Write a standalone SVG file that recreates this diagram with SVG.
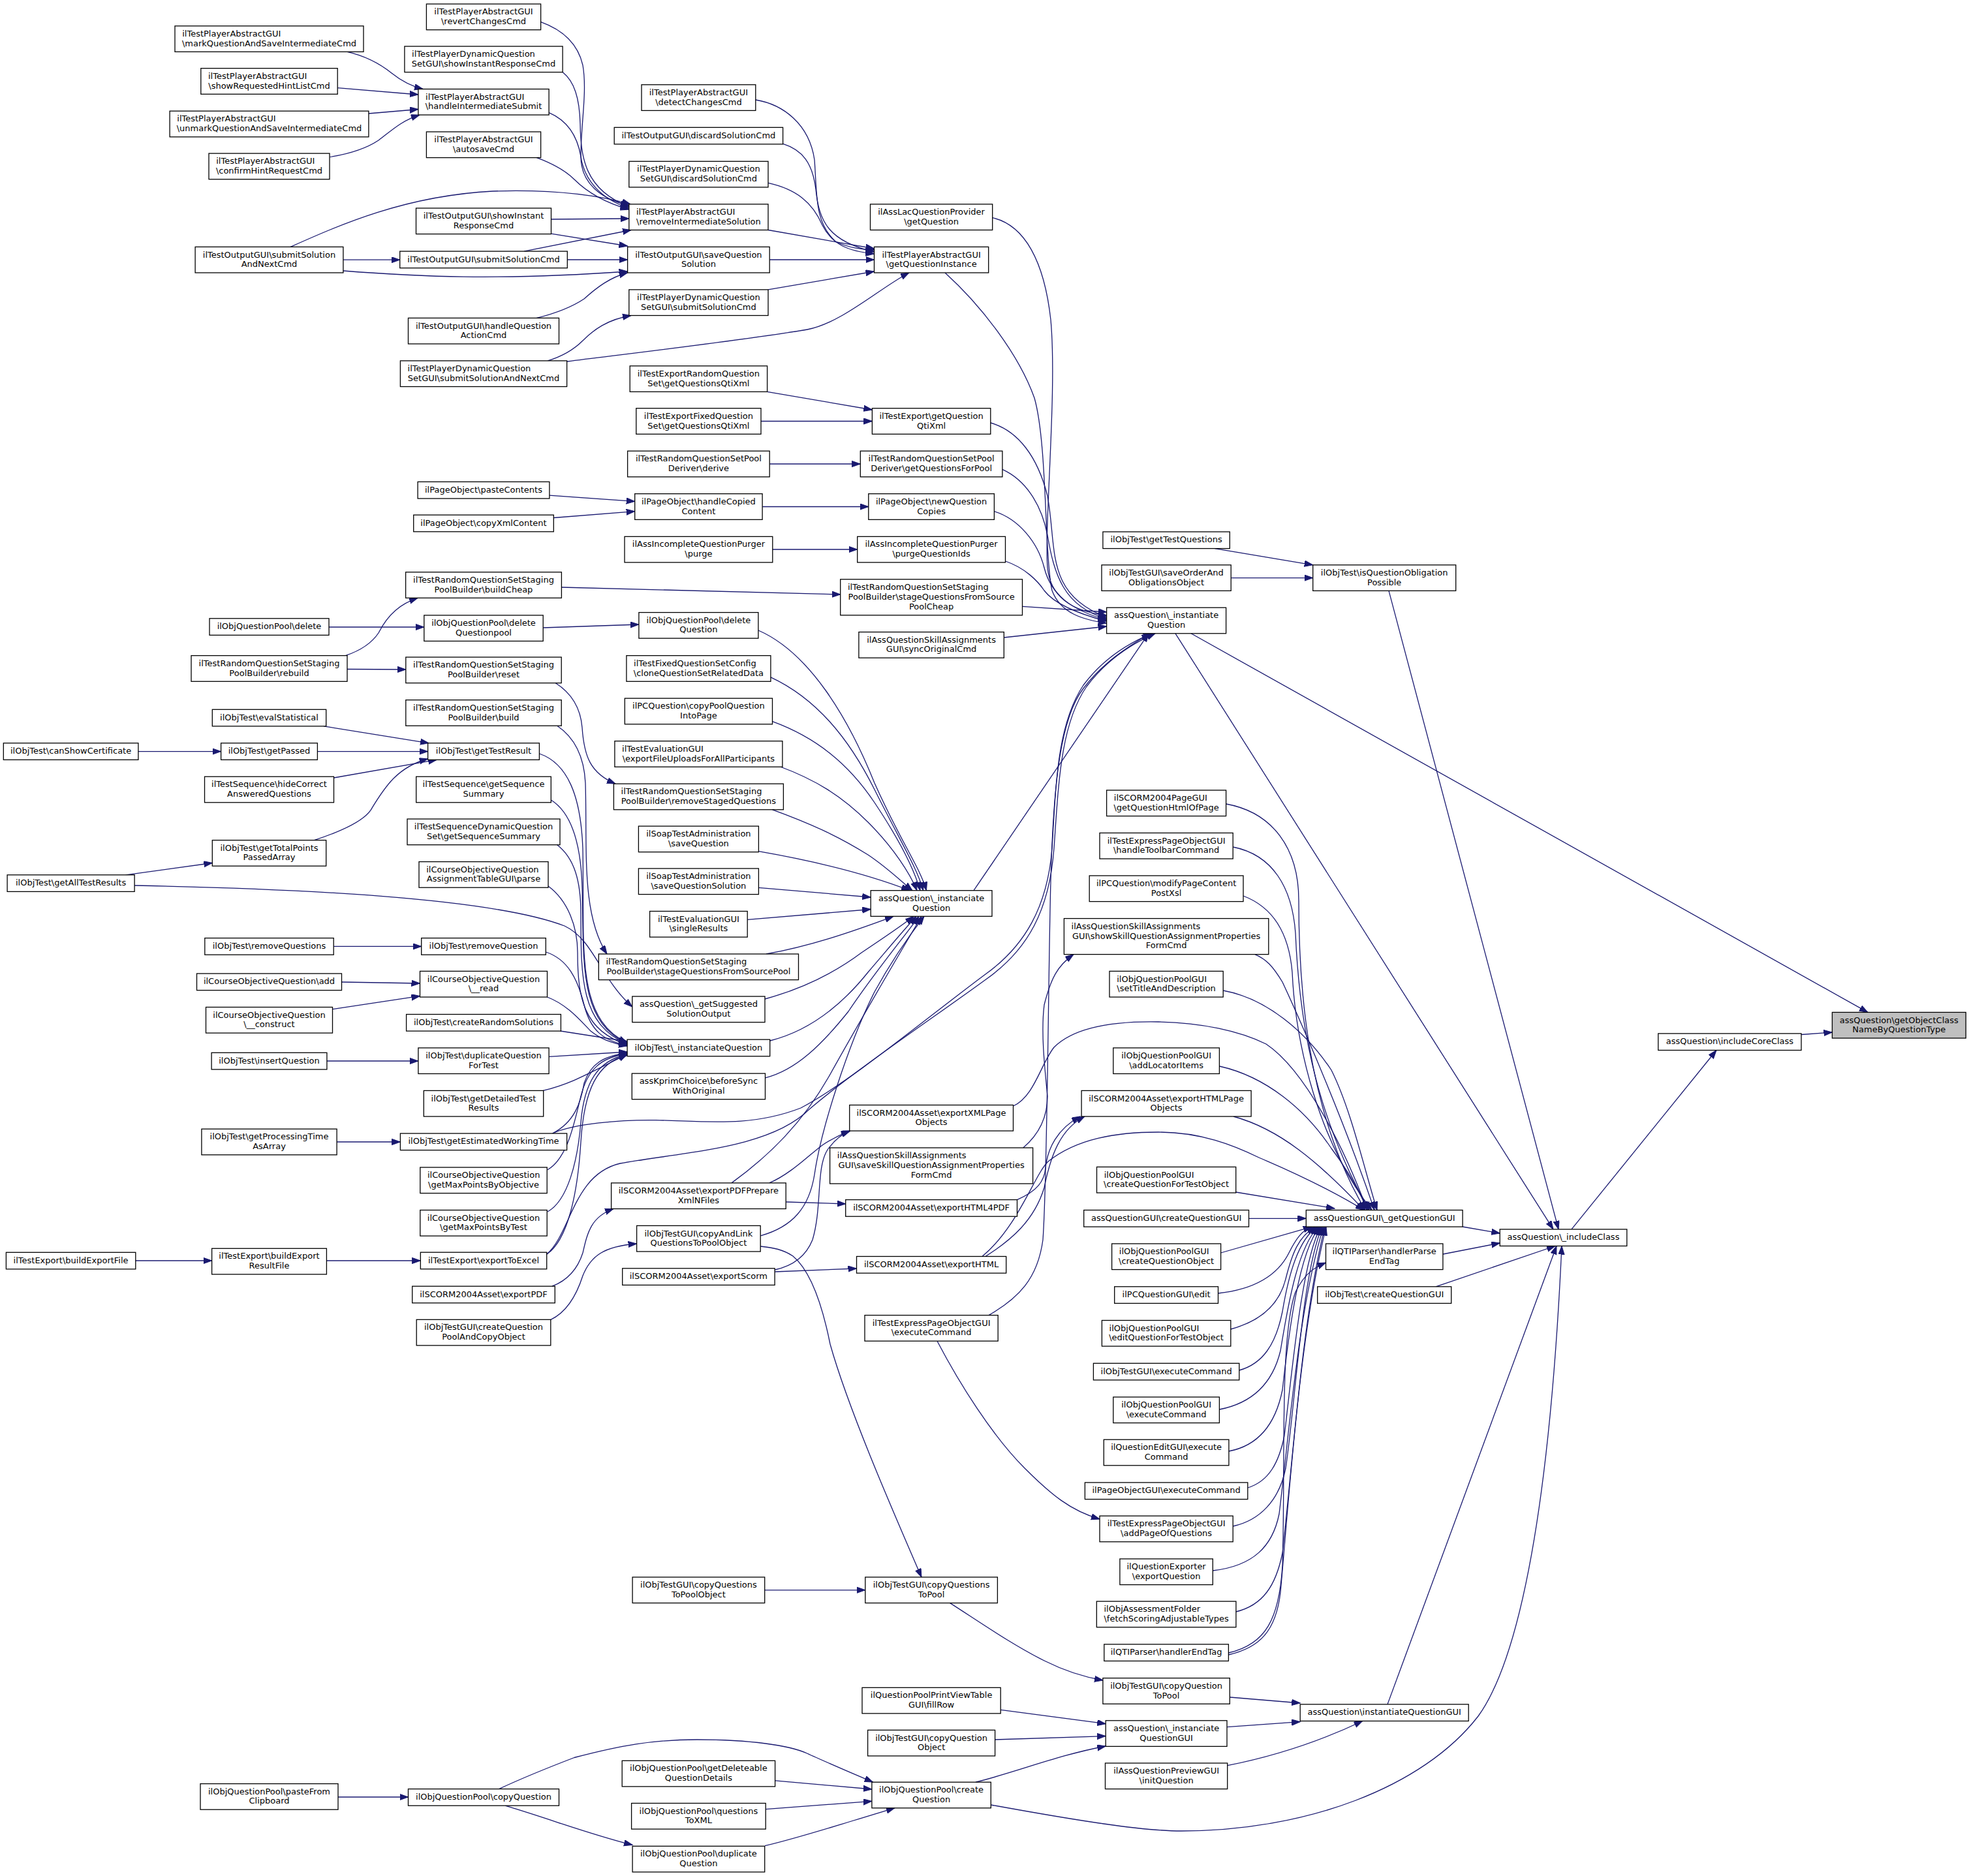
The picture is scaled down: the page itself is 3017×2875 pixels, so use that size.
<svg xmlns="http://www.w3.org/2000/svg" width="3017" height="2875" viewBox="0 0 3017 2875">
<defs>
<style>
.node rect{fill:#fff;stroke:#000;stroke-width:1.3}
.hl rect{fill:#bfbfbf}
text{font-family:"DejaVu Sans",sans-serif;font-size:13px;text-anchor:middle;fill:#000}
text.l{text-anchor:start}
.e path{fill:none;stroke:#191970;stroke-width:1.3;marker-end:url(#a)}
</style>
<marker id="a" markerUnits="userSpaceOnUse" markerWidth="15" markerHeight="11" refX="13" refY="4.6" orient="auto"><path d="M0,0L13,4.6L0,9.2z" fill="#191970" stroke="#191970" stroke-width="1"/></marker>
</defs>
<rect x="0" y="0" width="3017" height="2875" fill="#fff"/>
<g id="edges" class="e">
<path d="M532,79.4 C565,87 585,100 600,112 C615,124 630,132 648,136.5"/>
<path d="M517.2,134.7 L640.9,145"/>
<path d="M564.9,174 L640.9,167.5"/>
<path d="M505.6,240.6 C540,235 565,225 580,215 C600,200 615,185 643,176.1"/>
<path d="M445,378.4 C520,345 620,300 755,293 C850,290 920,300 966,312.9"/>
<path d="M525.9,398.2 L612.7,398.2"/>
<path d="M525.9,415 C640,424 760,430 961.6,416"/>
<path d="M504,961 L649.8,961"/>
<path d="M529.6,1004.7 C555,996 570,985 580,970 C595,940 615,925 640,916.4"/>
<path d="M532,1025.5 L621.8,1026"/>
<path d="M496,1112.9 L657,1138.8"/>
<path d="M211.9,1151.6 L338.6,1151.6"/>
<path d="M486.4,1151.6 L655.6,1151.6"/>
<path d="M511.5,1192 L669,1164.4"/>
<path d="M481.5,1287.6 C520,1275 555,1260 568,1241.6 C590,1205 610,1175 655.6,1163"/>
<path d="M192.6,1340.8 L325.3,1322.5"/>
<path d="M206.1,1357 C450,1362 750,1375 865,1419 C910,1440 920,1500 968.8,1543"/>
<path d="M511.2,1450.4 L645.7,1450.4"/>
<path d="M523.5,1505 L643.5,1507"/>
<path d="M509.5,1546.6 L643.5,1526.4"/>
<path d="M500.9,1626 L640.9,1626"/>
<path d="M516,1750 L613.4,1750"/>
<path d="M208,1932 L324.6,1932"/>
<path d="M500.4,1932 L644.3,1932"/>
<path d="M518,2754 L625.5,2754"/>
<path d="M828.6,33.7 C860,45 885,65 893,100 C900,140 890,190 890,240 C890,280 920,305 963.8,315"/>
<path d="M862.1,110.6 C880,125 888,150 889,190 C890,240 895,290 963.8,317"/>
<path d="M841.1,172.6 C870,185 885,210 890,240 C895,275 920,305 963.8,319"/>
<path d="M822.4,241.6 C845,250 865,260 880,275 C900,295 925,310 963.8,321"/>
<path d="M844.5,336 L963.8,335"/>
<path d="M844.5,358.2 L961.6,377"/>
<path d="M803,385.1 L967,352.5"/>
<path d="M869.3,398 L961.6,398"/>
<path d="M822.4,487.4 C860,478 880,468 895,458 C915,440 935,425 961.6,418"/>
<path d="M839.3,552.9 C865,545 880,535 893,522 C910,505 930,490 967,483.5"/>
<path d="M868.6,554 C980,540 1150,520 1237,505 C1290,495 1350,440 1393,418"/>
<path d="M1157.8,153 C1200,160 1240,190 1248,245 C1252,300 1248,340 1280,370 C1300,380 1320,382 1339.5,383"/>
<path d="M1199.7,220.4 C1230,230 1245,250 1250,290 C1255,340 1270,370 1339.5,386"/>
<path d="M1177.1,280.4 C1220,290 1245,310 1260,345 C1275,375 1300,385 1339.5,389"/>
<path d="M1177.1,352.5 L1339.5,381"/>
<path d="M1179.2,398 L1339.5,398"/>
<path d="M1177.1,443.9 L1339.5,416"/>
<path d="M1175.4,600.4 L1336.4,628"/>
<path d="M1166,645.5 L1336.4,645.5"/>
<path d="M1179.2,711 L1318.3,711"/>
<path d="M841.9,759.2 L972.7,768.4"/>
<path d="M848.4,793.5 L972.7,783.7"/>
<path d="M1168.2,776.5 L1330.8,776.5"/>
<path d="M1183.8,842 L1313.7,842"/>
<path d="M860.4,900 L1287.7,911"/>
<path d="M832.3,962 L978.9,957"/>
<path d="M851.3,1046.7 C880,1065 890,1090 892,1115 C895,1160 905,1185 943,1201.2"/>
<path d="M853.7,1112.3 C880,1130 895,1160 897,1200 C900,1300 890,1400 930,1462"/>
<path d="M826.5,1155 C870,1170 890,1220 893,1300 C896,1450 880,1560 961.1,1598"/>
<path d="M844.3,1226 C875,1245 890,1290 892,1360 C895,1470 885,1565 961.1,1599"/>
<path d="M853.7,1294.7 C880,1315 890,1350 890,1400 C890,1500 890,1570 961.1,1600"/>
<path d="M840,1358 C870,1380 885,1420 885,1460 C885,1530 895,1580 961.1,1601"/>
<path d="M836.4,1459 C870,1470 885,1500 895,1540 C905,1580 925,1595 961.1,1602"/>
<path d="M838.5,1528 C870,1540 890,1565 905,1580 C920,1592 935,1598 961.1,1603"/>
<path d="M858.5,1580 L961.1,1596"/>
<path d="M841.2,1619.4 L961.1,1612"/>
<path d="M832,1671.4 C880,1660 910,1640 961.1,1616"/>
<path d="M846.5,1737 C880,1720 890,1690 895,1660 C905,1630 925,1618 961.1,1614"/>
<path d="M839,1792.7 C870,1775 880,1720 890,1680 C900,1640 920,1620 961.1,1615"/>
<path d="M839,1857 C870,1840 885,1780 890,1720 C895,1660 915,1625 961.1,1616"/>
<path d="M838,1922 C870,1900 885,1830 890,1750 C895,1670 915,1628 961.1,1617"/>
<path d="M1161.9,966 C1240,1000 1300,1100 1340,1200 C1380,1290 1410,1330 1419.5,1364.7"/>
<path d="M1180.9,1037.8 C1250,1070 1300,1130 1340,1210 C1380,1290 1405,1330 1414.7,1364.7"/>
<path d="M1183.5,1105.7 C1250,1130 1300,1170 1340,1230 C1380,1290 1400,1330 1410,1364.7"/>
<path d="M1193,1174 C1250,1195 1290,1220 1330,1260 C1370,1300 1395,1340 1405,1364.7"/>
<path d="M1183.5,1240.8 C1250,1265 1290,1285 1330,1310 C1360,1330 1380,1350 1398,1364.7"/>
<path d="M1162.4,1304.7 C1250,1320 1330,1340 1394,1364.7"/>
<path d="M1162.4,1360.4 L1334.2,1375"/>
<path d="M1145.3,1409.4 L1334.2,1393.5"/>
<path d="M1174,1462 C1240,1450 1300,1430 1369,1404.3"/>
<path d="M1172,1531 C1230,1515 1280,1490 1320,1460 C1350,1440 1380,1420 1400,1404.3"/>
<path d="M1179.7,1595 C1240,1580 1290,1540 1330,1490 C1360,1455 1385,1425 1404,1404.3"/>
<path d="M1172.5,1651.8 C1220,1640 1260,1600 1300,1550 C1340,1490 1390,1430 1408,1404.3"/>
<path d="M1121,1812.9 C1180,1770 1230,1720 1270,1650 C1320,1560 1385,1450 1412,1404.3"/>
<path d="M1165.3,1893.8 C1215,1880 1240,1850 1248,1800 C1258,1730 1300,1600 1340,1520 C1370,1465 1400,1425 1416,1404.3"/>
<path d="M846.5,1737 C880,1722 950,1716 1005,1716.7 C1080,1718 1150,1728 1227,1698 C1300,1660 1420,1560 1510,1493 C1570,1450 1605,1390 1612,1300 C1618,1200 1620,1110 1660,1050 C1690,1010 1730,985 1765,970.8"/>
<path d="M837.8,1922 C875,1890 878,1800 950,1783 C1050,1765 1180,1760 1240,1700 C1310,1640 1430,1560 1512,1500 C1575,1455 1608,1395 1615,1300 C1622,1200 1625,1110 1665,1052 C1695,1012 1735,986 1770,970.8"/>
<path d="M1515,2015.6 C1560,1990 1590,1960 1598,1900 C1605,1800 1606,1500 1610,1350 C1614,1200 1625,1100 1660,1055 C1690,1015 1730,990 1762,970.8"/>
<path d="M1448,418 C1500,465 1560,540 1585,610 C1605,680 1600,850 1612,905 C1625,940 1660,950 1695.6,955"/>
<path d="M1520.8,333.7 C1570,345 1600,400 1610,490 C1620,600 1600,800 1605,870 C1610,920 1650,938 1695.6,943"/>
<path d="M1517.9,648 C1560,660 1590,700 1605,760 C1620,840 1600,910 1695.6,946"/>
<path d="M1535.9,719.4 C1570,735 1595,770 1605,820 C1615,880 1630,930 1695.6,948"/>
<path d="M1523.4,783.7 C1560,795 1590,830 1600,870 C1610,910 1640,935 1695.6,950"/>
<path d="M1540.5,860 C1570,870 1590,890 1600,905 C1615,925 1650,940 1695.6,952"/>
<path d="M1566.3,929.4 L1695.6,938"/>
<path d="M1538.3,977 L1695.6,960"/>
<path d="M1492,1364.7 L1760,970.8"/>
<path d="M846,1971.2 C870,1962 885,1945 893,1920 C900,1890 905,1865 940,1852.5"/>
<path d="M844,2022.3 C870,2010 885,1980 893,1955 C905,1925 925,1910 975.6,1906"/>
<path d="M1178.7,1812.9 C1210,1800 1240,1770 1260,1755 C1275,1745 1290,1738 1301.7,1733.1"/>
<path d="M1187.2,1946 C1215,1940 1235,1925 1245,1900 C1260,1850 1250,1790 1268,1762 C1280,1745 1292,1737 1303,1733.1"/>
<path d="M1204.3,1842 L1295.7,1845"/>
<path d="M1187.2,1949 L1312.5,1944"/>
<path d="M1558.6,1838.6 C1590,1825 1600,1810 1602,1790 C1605,1760 1620,1730 1655,1711"/>
<path d="M1510,1925.5 C1550,1900 1585,1870 1600,1820 C1610,1770 1625,1730 1662,1711"/>
<path d="M1505,1925.5 C1560,1880 1585,1800 1606,1780 C1650,1745 1710,1735 1775,1735 C1840,1735 1890,1755 1929,1774 C1990,1800 2050,1830 2090,1854.5"/>
<path d="M1567.8,1759 C1590,1740 1605,1715 1605,1680 C1600,1630 1595,1580 1600,1540 C1610,1500 1620,1480 1645,1462.6"/>
<path d="M1552.6,1695 C1585,1680 1595,1630 1615,1605 C1650,1570 1720,1565 1775,1566 C1840,1567 1900,1580 1940,1600 C2000,1640 2060,1760 2095,1854.5"/>
<path d="M1878.6,1232 C1950,1245 1990,1300 1990,1380 C1990,1500 2000,1700 2092,1854.5"/>
<path d="M1889.2,1298 C1950,1310 1980,1360 1985,1430 C1990,1550 2010,1700 2098,1854.5"/>
<path d="M1905,1373 C1950,1390 1975,1430 1980,1490 C1985,1600 2020,1750 2102,1854.5"/>
<path d="M1923,1462.6 C1940,1470 1950,1480 1965,1505 C2000,1580 2060,1720 2106,1854.5"/>
<path d="M1874.3,1518 C1940,1530 2000,1580 2040,1640 C2070,1700 2090,1790 2110,1854.5"/>
<path d="M1868.5,1634 C1940,1650 2000,1700 2040,1760 C2070,1800 2085,1830 2095,1854.5"/>
<path d="M1890,1711 C1960,1730 2020,1780 2090,1854.5"/>
<path d="M1893.8,1827 L2045,1852"/>
<path d="M1913.5,1867.3 L2001.3,1867.3"/>
<path d="M1870.6,1920 L2010,1880.1"/>
<path d="M1866.6,1982 C1930,1975 1960,1950 1975,1920 C1985,1900 1995,1885 2010,1880.1"/>
<path d="M1885.8,2037 C1930,2025 1960,2000 1970,1960 C1980,1920 1990,1895 2015,1880.1"/>
<path d="M1898.8,2100 C1935,2090 1955,2060 1965,2010 C1975,1950 1990,1900 2018,1880.1"/>
<path d="M1868.5,2160 C1920,2150 1950,2120 1962,2070 C1975,1990 1990,1910 2020,1880.1"/>
<path d="M1883,2224 C1930,2215 1955,2180 1965,2130 C1975,2040 1990,1920 2022,1880.1"/>
<path d="M1911.8,2280 C1945,2270 1960,2240 1968,2200 C1980,2100 1995,1930 2024,1880.1"/>
<path d="M1889.2,2339 C1930,2330 1960,2300 1970,2250 C1985,2150 1995,1950 2026,1880.1"/>
<path d="M1858.4,2407 C1920,2400 1950,2370 1960,2320 C1975,2200 1990,2000 2028,1880.1"/>
<path d="M1894,2470 C1935,2460 1955,2430 1965,2380 C1980,2250 1995,2020 2030,1880.1"/>
<path d="M1882.5,2536 C1930,2525 1955,2500 1962,2440 C1975,2300 1990,2050 2032,1880.1"/>
<path d="M1882.5,2533 C1940,2520 1960,2480 1965,2400 C1970,2250 1960,2050 1985,1980 C2000,1950 2015,1942 2031.5,1935"/>
<path d="M1861.5,840.6 L2011.7,865.8"/>
<path d="M1886.3,885.6 L2011.7,885.6"/>
<path d="M2241.1,1880 L2298.2,1890"/>
<path d="M2211,1922 L2298.2,1905"/>
<path d="M2200,1971.8 L2383,1909.5"/>
<path d="M2126,2611.9 L2385,1909.5"/>
<path d="M1518.4,2766 C1650,2790 1750,2806 1810,2806 C2000,2806 2180,2740 2265,2630 C2330,2540 2375,2300 2393,1909.5"/>
<path d="M1801,970.8 L2380,1883.9"/>
<path d="M2128,905.4 L2388,1883.9"/>
<path d="M1825,970.8 L2862,1551.4"/>
<path d="M2408,1883.9 L2630,1609.5"/>
<path d="M2760,1585.5 L2807.4,1582"/>
<path d="M1171.8,2436.8 L1325.8,2436.8"/>
<path d="M1165.3,1910 C1185,1912 1200,1915 1215,1925 C1245,1950 1262,2010 1272,2060 C1300,2160 1370,2320 1412,2417"/>
<path d="M1436,2055.2 C1470,2120 1520,2200 1570,2250 C1610,2290 1640,2315 1685,2328"/>
<path d="M1455.6,2456.6 C1500,2485 1550,2520 1600,2545 C1630,2560 1660,2570 1690,2575"/>
<path d="M1884.4,2601 L1992.2,2610"/>
<path d="M1880.1,2646.6 L1992.2,2638.7"/>
<path d="M1880.8,2705.7 C1960,2690 2030,2665 2087.8,2637.5"/>
<path d="M1533.3,2620.4 L1694.2,2641.7"/>
<path d="M1524.6,2666 L1694.2,2660.6"/>
<path d="M1495,2731.2 C1560,2715 1620,2690 1694.2,2676"/>
<path d="M1187.7,2728.8 L1335.9,2742"/>
<path d="M1173.3,2772.6 L1335.9,2760.4"/>
<path d="M1172,2828.7 C1230,2815 1290,2795 1371,2770.8"/>
<path d="M764.6,2741.6 C800,2725 850,2705 880,2693.5 C950,2675 1000,2666 1068,2666 C1150,2666 1210,2675 1236.5,2687 C1260,2698 1300,2715 1337.6,2731.2"/>
<path d="M774,2767.2 C850,2790 900,2810 969.1,2827.5"/>
</g>
<g id="n_markQ" class="node"><rect x="268" y="39.8" width="289" height="39.6"/><text class="l" x="279.2" y="55.9">ilTestPlayerAbstractGUI</text><text x="412.5" y="70.6">\markQuestionAndSaveIntermediateCmd</text></g>
<g id="n_showHint" class="node"><rect x="307.8" y="104.7" width="209.4" height="39.6"/><text class="l" x="319" y="120.8">ilTestPlayerAbstractGUI</text><text x="412.5" y="135.5">\showRequestedHintListCmd</text></g>
<g id="n_unmark" class="node"><rect x="260.1" y="170.2" width="304.8" height="39.6"/><text class="l" x="271.3" y="186.3">ilTestPlayerAbstractGUI</text><text x="412.5" y="201">\unmarkQuestionAndSaveIntermediateCmd</text></g>
<g id="n_confirm" class="node"><rect x="320" y="235.1" width="185" height="39.6"/><text class="l" x="331.2" y="251.2">ilTestPlayerAbstractGUI</text><text x="412.5" y="265.9">\confirmHintRequestCmd</text></g>
<g id="n_subNext" class="node"><rect x="299.1" y="378.4" width="226.8" height="39.6"/><text x="412.5" y="394.5">ilTestOutputGUI\submitSolution</text><text x="412.5" y="409.2">AndNextCmd</text></g>
<g id="n_qpDelete" class="node"><rect x="321" y="947.8" width="183" height="25.6"/><text x="412.5" y="964.2">ilObjQuestionPool\delete</text></g>
<g id="n_rebuild" class="node"><rect x="293" y="1004.7" width="239" height="39.6"/><text x="412.5" y="1020.8">ilTestRandomQuestionSetStaging</text><text x="412.5" y="1035.5">PoolBuilder\rebuild</text></g>
<g id="n_evalStat" class="node"><rect x="325.3" y="1087.3" width="174.4" height="25.6"/><text x="412.5" y="1103.7">ilObjTest\evalStatistical</text></g>
<g id="n_getPassed" class="node"><rect x="338.6" y="1138.8" width="147.8" height="25.6"/><text x="412.5" y="1155.2">ilObjTest\getPassed</text></g>
<g id="n_hideCorrect" class="node"><rect x="313.5" y="1190.2" width="198" height="39.6"/><text x="412.5" y="1206.3">ilTestSequence\hideCorrect</text><text x="412.5" y="1221">AnsweredQuestions</text></g>
<g id="n_totalPoints" class="node"><rect x="325.3" y="1287.6" width="174.4" height="39.6"/><text x="412.5" y="1303.7">ilObjTest\getTotalPoints</text><text x="412.5" y="1318.4">PassedArray</text></g>
<g id="n_removeQs" class="node"><rect x="313.8" y="1437.6" width="197.4" height="25.6"/><text x="412.5" y="1454">ilObjTest\removeQuestions</text></g>
<g id="n_coqAdd" class="node"><rect x="301.5" y="1492" width="222" height="25.6"/><text x="412.5" y="1508.4">ilCourseObjectiveQuestion\add</text></g>
<g id="n_construct" class="node"><rect x="315.5" y="1543.5" width="194" height="39.6"/><text x="412.5" y="1559.6">ilCourseObjectiveQuestion</text><text x="412.5" y="1574.3">\__construct</text></g>
<g id="n_insertQ" class="node"><rect x="324.1" y="1613.3" width="176.8" height="25.6"/><text x="412.5" y="1629.7">ilObjTest\insertQuestion</text></g>
<g id="n_procTime" class="node"><rect x="308.9" y="1730.2" width="207.2" height="39.6"/><text x="412.5" y="1746.3">ilObjTest\getProcessingTime</text><text x="412.5" y="1761">AsArray</text></g>
<g id="n_buildExportResult" class="node"><rect x="324.6" y="1913.3" width="175.8" height="39.6"/><text x="412.5" y="1929.4">ilTestExport\buildExport</text><text x="412.5" y="1944.1">ResultFile</text></g>
<g id="n_pasteClip" class="node"><rect x="307" y="2733.6" width="211" height="39.6"/><text x="412.5" y="2749.7">ilObjQuestionPool\pasteFrom</text><text x="412.5" y="2764.4">Clipboard</text></g>
<g id="n_canShow" class="node"><rect x="5.3" y="1138.8" width="206.6" height="25.6"/><text x="108.6" y="1155.2">ilObjTest\canShowCertificate</text></g>
<g id="n_getAll" class="node"><rect x="11.1" y="1340.8" width="195" height="25.6"/><text x="108.6" y="1357.2">ilObjTest\getAllTestResults</text></g>
<g id="n_buildExportFile" class="node"><rect x="9.4" y="1919.3" width="198.4" height="25.6"/><text x="108.6" y="1935.7">ilTestExport\buildExportFile</text></g>
<g id="n_revert" class="node"><rect x="653.4" y="6.1" width="175.2" height="39.6"/><text x="741" y="22.2">ilTestPlayerAbstractGUI</text><text x="741" y="36.9">\revertChangesCmd</text></g>
<g id="n_dynShowInstant" class="node"><rect x="619.9" y="71" width="242.2" height="39.6"/><text class="l" x="631.1" y="87.1">ilTestPlayerDynamicQuestion</text><text x="741" y="101.8">SetGUI\showInstantResponseCmd</text></g>
<g id="n_his" class="node"><rect x="640.9" y="136.5" width="200.2" height="39.6"/><text class="l" x="652.1" y="152.6">ilTestPlayerAbstractGUI</text><text x="741" y="167.3">\handleIntermediateSubmit</text></g>
<g id="n_autosave" class="node"><rect x="653.4" y="202" width="175.2" height="39.6"/><text x="741" y="218.1">ilTestPlayerAbstractGUI</text><text x="741" y="232.8">\autosaveCmd</text></g>
<g id="n_toShowInstant" class="node"><rect x="637.5" y="319" width="207" height="39.6"/><text x="741" y="335.1">ilTestOutputGUI\showInstant</text><text x="741" y="349.8">ResponseCmd</text></g>
<g id="n_toSubmit" class="node"><rect x="612.7" y="385.1" width="256.6" height="25.6"/><text x="741" y="401.5">ilTestOutputGUI\submitSolutionCmd</text></g>
<g id="n_toHandleAction" class="node"><rect x="625.5" y="487.4" width="231" height="39.6"/><text x="741" y="503.5">ilTestOutputGUI\handleQuestion</text><text x="741" y="518.2">ActionCmd</text></g>
<g id="n_dynSubNext" class="node"><rect x="613.4" y="552.9" width="255.2" height="39.6"/><text class="l" x="624.6" y="569">ilTestPlayerDynamicQuestion</text><text x="741" y="583.7">SetGUI\submitSolutionAndNextCmd</text></g>
<g id="n_pasteContents" class="node"><rect x="640.1" y="738.4" width="201.8" height="25.6"/><text x="741" y="754.8">ilPageObject\pasteContents</text></g>
<g id="n_copyXml" class="node"><rect x="633.7" y="789.2" width="214.6" height="25.6"/><text x="741" y="805.6">ilPageObject\copyXmlContent</text></g>
<g id="n_buildCheap" class="node"><rect x="621.6" y="876.8" width="238.8" height="39.6"/><text x="741" y="892.9">ilTestRandomQuestionSetStaging</text><text x="741" y="907.6">PoolBuilder\buildCheap</text></g>
<g id="n_dqp" class="node"><rect x="649.8" y="942.9" width="182.4" height="39.6"/><text x="741" y="959">ilObjQuestionPool\delete</text><text x="741" y="973.7">Questionpool</text></g>
<g id="n_reset" class="node"><rect x="621.8" y="1007.1" width="238.4" height="39.6"/><text x="741" y="1023.2">ilTestRandomQuestionSetStaging</text><text x="741" y="1037.9">PoolBuilder\reset</text></g>
<g id="n_build" class="node"><rect x="621.8" y="1072.7" width="238.4" height="39.6"/><text x="741" y="1088.8">ilTestRandomQuestionSetStaging</text><text x="741" y="1103.5">PoolBuilder\build</text></g>
<g id="n_getTestResult" class="node"><rect x="655.6" y="1138.8" width="170.8" height="25.6"/><text x="741" y="1155.2">ilObjTest\getTestResult</text></g>
<g id="n_getSeqSum" class="node"><rect x="637.7" y="1190.2" width="206.6" height="39.6"/><text x="741" y="1206.3">ilTestSequence\getSequence</text><text x="741" y="1221">Summary</text></g>
<g id="n_dynSeqSum" class="node"><rect x="624" y="1255.1" width="234" height="39.6"/><text x="741" y="1271.2">ilTestSequenceDynamicQuestion</text><text x="741" y="1285.9">Set\getSequenceSummary</text></g>
<g id="n_parse" class="node"><rect x="642" y="1320.6" width="198" height="39.6"/><text class="l" x="653.2" y="1336.7">ilCourseObjectiveQuestion</text><text x="741" y="1351.4">AssignmentTableGUI\parse</text></g>
<g id="n_removeQ" class="node"><rect x="645.7" y="1437.6" width="190.6" height="25.6"/><text x="741" y="1454">ilObjTest\removeQuestion</text></g>
<g id="n_coqRead" class="node"><rect x="643.5" y="1488.4" width="195" height="39.6"/><text x="741" y="1504.5">ilCourseObjectiveQuestion</text><text x="741" y="1519.2">\__read</text></g>
<g id="n_createRandom" class="node"><rect x="622.6" y="1554.5" width="236.8" height="25.6"/><text x="741" y="1570.9">ilObjTest\createRandomSolutions</text></g>
<g id="n_dupForTest" class="node"><rect x="640.9" y="1605.9" width="200.2" height="39.6"/><text x="741" y="1622">ilObjTest\duplicateQuestion</text><text x="741" y="1636.7">ForTest</text></g>
<g id="n_detailed" class="node"><rect x="649.3" y="1671.4" width="183.4" height="39.6"/><text x="741" y="1687.5">ilObjTest\getDetailedTest</text><text x="741" y="1702.2">Results</text></g>
<g id="n_estWork" class="node"><rect x="613.4" y="1737" width="255.2" height="25.6"/><text x="741" y="1753.4">ilObjTest\getEstimatedWorkingTime</text></g>
<g id="n_maxObj" class="node"><rect x="643.8" y="1789" width="194.4" height="39.6"/><text class="l" x="655" y="1805.1">ilCourseObjectiveQuestion</text><text x="741" y="1819.8">\getMaxPointsByObjective</text></g>
<g id="n_maxTest" class="node"><rect x="643.8" y="1854.5" width="194.4" height="39.6"/><text x="741" y="1870.6">ilCourseObjectiveQuestion</text><text x="741" y="1885.3">\getMaxPointsByTest</text></g>
<g id="n_exportExcel" class="node"><rect x="644.3" y="1919.2" width="193.4" height="25.6"/><text x="741" y="1935.6">ilTestExport\exportToExcel</text></g>
<g id="n_exportPDF" class="node"><rect x="631.7" y="1971.2" width="218.6" height="25.6"/><text x="741" y="1987.6">ilSCORM2004Asset\exportPDF</text></g>
<g id="n_createQPCopy" class="node"><rect x="638.2" y="2022.3" width="205.6" height="39.6"/><text x="741" y="2038.4">ilObjTestGUI\createQuestion</text><text x="741" y="2053.1">PoolAndCopyObject</text></g>
<g id="n_copyQuestion" class="node"><rect x="625.5" y="2741.6" width="231" height="25.6"/><text x="741" y="2758">ilObjQuestionPool\copyQuestion</text></g>
<g id="n_detect" class="node"><rect x="983" y="129.8" width="174.8" height="39.6"/><text x="1070.4" y="145.9">ilTestPlayerAbstractGUI</text><text x="1070.4" y="160.6">\detectChangesCmd</text></g>
<g id="n_toDiscard" class="node"><rect x="941.2" y="195.3" width="258.4" height="25.6"/><text x="1070.4" y="211.7">ilTestOutputGUI\discardSolutionCmd</text></g>
<g id="n_dynDiscard" class="node"><rect x="963.8" y="247.3" width="213.2" height="39.6"/><text x="1070.4" y="263.4">ilTestPlayerDynamicQuestion</text><text x="1070.4" y="278.1">SetGUI\discardSolutionCmd</text></g>
<g id="n_ris" class="node"><rect x="963.8" y="312.9" width="213.2" height="39.6"/><text class="l" x="975" y="329">ilTestPlayerAbstractGUI</text><text x="1070.4" y="343.7">\removeIntermediateSolution</text></g>
<g id="n_sqs" class="node"><rect x="961.6" y="378.4" width="217.6" height="39.6"/><text x="1070.4" y="394.5">ilTestOutputGUI\saveQuestion</text><text x="1070.4" y="409.2">Solution</text></g>
<g id="n_dss" class="node"><rect x="963.8" y="443.9" width="213.2" height="39.6"/><text x="1070.4" y="460">ilTestPlayerDynamicQuestion</text><text x="1070.4" y="474.7">SetGUI\submitSolutionCmd</text></g>
<g id="n_exportRandom" class="node"><rect x="965.2" y="560.8" width="210.4" height="39.6"/><text x="1070.4" y="576.9">ilTestExportRandomQuestion</text><text x="1070.4" y="591.6">Set\getQuestionsQtiXml</text></g>
<g id="n_exportFixed" class="node"><rect x="974.8" y="625.7" width="191.2" height="39.6"/><text x="1070.4" y="641.8">ilTestExportFixedQuestion</text><text x="1070.4" y="656.5">Set\getQuestionsQtiXml</text></g>
<g id="n_derive" class="node"><rect x="961.6" y="691.2" width="217.6" height="39.6"/><text x="1070.4" y="707.3">ilTestRandomQuestionSetPool</text><text x="1070.4" y="722">Deriver\derive</text></g>
<g id="n_hcc" class="node"><rect x="972.7" y="756.7" width="195.4" height="39.6"/><text x="1070.4" y="772.8">ilPageObject\handleCopied</text><text x="1070.4" y="787.5">Content</text></g>
<g id="n_purge" class="node"><rect x="957" y="822.3" width="226.8" height="39.6"/><text x="1070.4" y="838.4">ilAssIncompleteQuestionPurger</text><text x="1070.4" y="853.1">\purge</text></g>
<g id="n_dq" class="node"><rect x="978.9" y="938.6" width="183" height="39.6"/><text x="1070.4" y="954.7">ilObjQuestionPool\delete</text><text x="1070.4" y="969.4">Question</text></g>
<g id="n_clone" class="node"><rect x="959.9" y="1004.7" width="221" height="39.6"/><text class="l" x="971.1" y="1020.8">ilTestFixedQuestionSetConfig</text><text x="1070.4" y="1035.5">\cloneQuestionSetRelatedData</text></g>
<g id="n_copyPool" class="node"><rect x="957.3" y="1070.2" width="226.2" height="39.6"/><text x="1070.4" y="1086.3">ilPCQuestion\copyPoolQuestion</text><text x="1070.4" y="1101">IntoPage</text></g>
<g id="n_exportUploads" class="node"><rect x="941.9" y="1135.7" width="257" height="39.6"/><text class="l" x="953.1" y="1151.8">ilTestEvaluationGUI</text><text x="1070.4" y="1166.5">\exportFileUploadsForAllParticipants</text></g>
<g id="n_rsq" class="node"><rect x="940.4" y="1201.2" width="260" height="39.6"/><text class="l" x="951.6" y="1217.3">ilTestRandomQuestionSetStaging</text><text x="1070.4" y="1232">PoolBuilder\removeStagedQuestions</text></g>
<g id="n_soapSave" class="node"><rect x="978.4" y="1266.1" width="184" height="39.6"/><text x="1070.4" y="1282.2">ilSoapTestAdministration</text><text x="1070.4" y="1296.9">\saveQuestion</text></g>
<g id="n_soapSaveSol" class="node"><rect x="978.4" y="1331" width="184" height="39.6"/><text x="1070.4" y="1347.1">ilSoapTestAdministration</text><text x="1070.4" y="1361.8">\saveQuestionSolution</text></g>
<g id="n_singleResults" class="node"><rect x="995.6" y="1396.5" width="149.6" height="39.6"/><text x="1070.4" y="1412.6">ilTestEvaluationGUI</text><text x="1070.4" y="1427.3">\singleResults</text></g>
<g id="n_ssp" class="node"><rect x="917.3" y="1462" width="306.2" height="39.6"/><text class="l" x="928.5" y="1478.1">ilTestRandomQuestionSetStaging</text><text x="1070.4" y="1492.8">PoolBuilder\stageQuestionsFromSourcePool</text></g>
<g id="n_suggested" class="node"><rect x="968.8" y="1527" width="203.2" height="39.6"/><text x="1070.4" y="1543.1">assQuestion\_getSuggested</text><text x="1070.4" y="1557.8">SolutionOutput</text></g>
<g id="n_oti" class="node"><rect x="961.1" y="1593.1" width="218.6" height="25.6"/><text x="1070.4" y="1609.5">ilObjTest\_instanciateQuestion</text></g>
<g id="n_kprim" class="node"><rect x="968.3" y="1645.1" width="204.2" height="39.6"/><text x="1070.4" y="1661.2">assKprimChoice\beforeSync</text><text x="1070.4" y="1675.9">WithOriginal</text></g>
<g id="n_pdfPrepare" class="node"><rect x="936.6" y="1812.9" width="267.6" height="39.6"/><text x="1070.4" y="1829">ilSCORM2004Asset\exportPDFPrepare</text><text x="1070.4" y="1843.7">XmlNFiles</text></g>
<g id="n_copyAndLink" class="node"><rect x="975.6" y="1878.4" width="189.6" height="39.6"/><text x="1070.4" y="1894.5">ilObjTestGUI\copyAndLink</text><text x="1070.4" y="1909.2">QuestionsToPoolObject</text></g>
<g id="n_exportScorm" class="node"><rect x="953.7" y="1943.8" width="233.4" height="25.6"/><text x="1070.4" y="1960.2">ilSCORM2004Asset\exportScorm</text></g>
<g id="n_copyQsPoolObj" class="node"><rect x="969.1" y="2417" width="202.6" height="39.6"/><text x="1070.4" y="2433.1">ilObjTestGUI\copyQuestions</text><text x="1070.4" y="2447.8">ToPoolObject</text></g>
<g id="n_getDeleteable" class="node"><rect x="953.2" y="2698.3" width="234.4" height="39.6"/><text x="1070.4" y="2714.4">ilObjQuestionPool\getDeleteable</text><text x="1070.4" y="2729.1">QuestionDetails</text></g>
<g id="n_questionsXML" class="node"><rect x="967.6" y="2763.5" width="205.6" height="39.6"/><text x="1070.4" y="2779.6">ilObjQuestionPool\questions</text><text x="1070.4" y="2794.3">ToXML</text></g>
<g id="n_duplicate" class="node"><rect x="969.1" y="2829.3" width="202.6" height="39.6"/><text x="1070.4" y="2845.4">ilObjQuestionPool\duplicate</text><text x="1070.4" y="2860.1">Question</text></g>
<g id="n_lac" class="node"><rect x="1333.5" y="312.9" width="187.2" height="39.6"/><text x="1427.1" y="329">ilAssLacQuestionProvider</text><text x="1427.1" y="343.7">\getQuestion</text></g>
<g id="n_gqi" class="node"><rect x="1339.5" y="378.4" width="175.2" height="39.6"/><text x="1427.1" y="394.5">ilTestPlayerAbstractGUI</text><text x="1427.1" y="409.2">\getQuestionInstance</text></g>
<g id="n_eq" class="node"><rect x="1336.4" y="625.7" width="181.4" height="39.6"/><text x="1427.1" y="641.8">ilTestExport\getQuestion</text><text x="1427.1" y="656.5">QtiXml</text></g>
<g id="n_gqp" class="node"><rect x="1318.3" y="691.2" width="217.6" height="39.6"/><text x="1427.1" y="707.3">ilTestRandomQuestionSetPool</text><text x="1427.1" y="722">Deriver\getQuestionsForPool</text></g>
<g id="n_nqc" class="node"><rect x="1330.8" y="756.7" width="192.6" height="39.6"/><text x="1427.1" y="772.8">ilPageObject\newQuestion</text><text x="1427.1" y="787.5">Copies</text></g>
<g id="n_pqi" class="node"><rect x="1313.7" y="822.3" width="226.8" height="39.6"/><text x="1427.1" y="838.4">ilAssIncompleteQuestionPurger</text><text x="1427.1" y="853.1">\purgeQuestionIds</text></g>
<g id="n_sqc" class="node"><rect x="1287.7" y="887.8" width="278.8" height="55"/><text class="l" x="1298.9" y="904.2">ilTestRandomQuestionSetStaging</text><text x="1427.1" y="918.9">PoolBuilder\stageQuestionsFromSource</text><text x="1427.1" y="933.6">PoolCheap</text></g>
<g id="n_sync" class="node"><rect x="1315.9" y="968.6" width="222.4" height="39.6"/><text x="1427.1" y="984.7">ilAssQuestionSkillAssignments</text><text x="1427.1" y="999.4">GUI\syncOriginalCmd</text></g>
<g id="n_aqi" class="node"><rect x="1334.2" y="1364.7" width="185.8" height="39.6"/><text x="1427.1" y="1380.8">assQuestion\_instanciate</text><text x="1427.1" y="1395.5">Question</text></g>
<g id="n_xmlPage" class="node"><rect x="1301.7" y="1693.5" width="250.8" height="39.6"/><text x="1427.1" y="1709.6">ilSCORM2004Asset\exportXMLPage</text><text x="1427.1" y="1724.3">Objects</text></g>
<g id="n_saveSkill" class="node"><rect x="1271.6" y="1759" width="311" height="55"/><text class="l" x="1282.8" y="1775.4">ilAssQuestionSkillAssignments</text><text x="1427.1" y="1790.1">GUI\saveSkillQuestionAssignmentProperties</text><text x="1427.1" y="1804.8">FormCmd</text></g>
<g id="n_html4pdf" class="node"><rect x="1295.7" y="1838.6" width="262.8" height="25.6"/><text x="1427.1" y="1855">ilSCORM2004Asset\exportHTML4PDF</text></g>
<g id="n_exportHTML" class="node"><rect x="1312.5" y="1925.5" width="229.2" height="25.6"/><text x="1427.1" y="1941.9">ilSCORM2004Asset\exportHTML</text></g>
<g id="n_tepExec" class="node"><rect x="1325" y="2015.6" width="204.2" height="39.6"/><text x="1427.1" y="2031.7">ilTestExpressPageObjectGUI</text><text x="1427.1" y="2046.4">\executeCommand</text></g>
<g id="n_copyQsPool" class="node"><rect x="1325.8" y="2417" width="202.6" height="39.6"/><text x="1427.1" y="2433.1">ilObjTestGUI\copyQuestions</text><text x="1427.1" y="2447.8">ToPool</text></g>
<g id="n_fillRow" class="node"><rect x="1321" y="2586.3" width="212.2" height="39.6"/><text x="1427.1" y="2602.4">ilQuestionPoolPrintViewTable</text><text x="1427.1" y="2617.1">GUI\fillRow</text></g>
<g id="n_copyQObj" class="node"><rect x="1329.6" y="2651.4" width="195" height="39.6"/><text x="1427.1" y="2667.5">ilObjTestGUI\copyQuestion</text><text x="1427.1" y="2682.2">Object</text></g>
<g id="n_createQ" class="node"><rect x="1335.9" y="2731.2" width="182.4" height="39.6"/><text x="1427.1" y="2747.3">ilObjQuestionPool\create</text><text x="1427.1" y="2762">Question</text></g>
<g id="n_getTestQs" class="node"><rect x="1689.9" y="815" width="194.4" height="25.6"/><text x="1787.1" y="831.4">ilObjTest\getTestQuestions</text></g>
<g id="n_saveOrder" class="node"><rect x="1688" y="865.8" width="198.2" height="39.6"/><text x="1787.1" y="881.9">ilObjTestGUI\saveOrderAnd</text><text x="1787.1" y="896.6">ObligationsObject</text></g>
<g id="n_aiq" class="node"><rect x="1695.6" y="931.2" width="183" height="39.6"/><text x="1787.1" y="947.3">assQuestion\_instantiate</text><text x="1787.1" y="962">Question</text></g>
<g id="n_htmlOfPage" class="node"><rect x="1695.6" y="1211" width="183" height="39.6"/><text class="l" x="1706.8" y="1227.1">ilSCORM2004PageGUI</text><text x="1787.1" y="1241.8">\getQuestionHtmlOfPage</text></g>
<g id="n_toolbar" class="node"><rect x="1685" y="1276.5" width="204.2" height="39.6"/><text x="1787.1" y="1292.6">ilTestExpressPageObjectGUI</text><text x="1787.1" y="1307.3">\handleToolbarCommand</text></g>
<g id="n_modify" class="node"><rect x="1669.2" y="1342" width="235.8" height="39.6"/><text x="1787.1" y="1358.1">ilPCQuestion\modifyPageContent</text><text x="1787.1" y="1372.8">PostXsl</text></g>
<g id="n_showSkill" class="node"><rect x="1630.4" y="1407.6" width="313.4" height="55"/><text class="l" x="1641.6" y="1424">ilAssQuestionSkillAssignments</text><text x="1787.1" y="1438.7">GUI\showSkillQuestionAssignmentProperties</text><text x="1787.1" y="1453.4">FormCmd</text></g>
<g id="n_setTitle" class="node"><rect x="1700" y="1488.4" width="174.2" height="39.6"/><text class="l" x="1711.2" y="1504.5">ilObjQuestionPoolGUI</text><text x="1787.1" y="1519.2">\setTitleAndDescription</text></g>
<g id="n_addLocator" class="node"><rect x="1705.8" y="1605.9" width="162.6" height="39.6"/><text x="1787.1" y="1622">ilObjQuestionPoolGUI</text><text x="1787.1" y="1636.7">\addLocatorItems</text></g>
<g id="n_htmlPage" class="node"><rect x="1657.1" y="1671.4" width="260" height="39.6"/><text x="1787.1" y="1687.5">ilSCORM2004Asset\exportHTMLPage</text><text x="1787.1" y="1702.2">Objects</text></g>
<g id="n_createQFT" class="node"><rect x="1680.5" y="1788.4" width="213.2" height="39.6"/><text class="l" x="1691.7" y="1804.5">ilObjQuestionPoolGUI</text><text x="1787.1" y="1819.2">\createQuestionForTestObject</text></g>
<g id="n_createQGUI" class="node"><rect x="1660.7" y="1854.5" width="252.8" height="25.6"/><text x="1787.1" y="1870.9">assQuestionGUI\createQuestionGUI</text></g>
<g id="n_createQObj" class="node"><rect x="1703.6" y="1906" width="167" height="39.6"/><text class="l" x="1714.8" y="1922.1">ilObjQuestionPoolGUI</text><text x="1787.1" y="1936.8">\createQuestionObject</text></g>
<g id="n_pcEdit" class="node"><rect x="1707.7" y="1971.8" width="158.8" height="25.6"/><text x="1787.1" y="1988.2">ilPCQuestionGUI\edit</text></g>
<g id="n_editQFT" class="node"><rect x="1688.4" y="2023.5" width="197.4" height="39.6"/><text class="l" x="1699.6" y="2039.6">ilObjQuestionPoolGUI</text><text x="1787.1" y="2054.3">\editQuestionForTestObject</text></g>
<g id="n_otExec" class="node"><rect x="1675.4" y="2089.3" width="223.4" height="25.6"/><text x="1787.1" y="2105.7">ilObjTestGUI\executeCommand</text></g>
<g id="n_qpExec" class="node"><rect x="1705.8" y="2141" width="162.6" height="39.6"/><text x="1787.1" y="2157.1">ilObjQuestionPoolGUI</text><text x="1787.1" y="2171.8">\executeCommand</text></g>
<g id="n_qeExec" class="node"><rect x="1691.3" y="2206.2" width="191.6" height="39.6"/><text x="1787.1" y="2222.3">ilQuestionEditGUI\execute</text><text x="1787.1" y="2237">Command</text></g>
<g id="n_poExec" class="node"><rect x="1662.4" y="2272" width="249.4" height="25.6"/><text x="1787.1" y="2288.4">ilPageObjectGUI\executeCommand</text></g>
<g id="n_addPage" class="node"><rect x="1685" y="2323.2" width="204.2" height="39.6"/><text x="1787.1" y="2339.3">ilTestExpressPageObjectGUI</text><text x="1787.1" y="2354">\addPageOfQuestions</text></g>
<g id="n_qExporter" class="node"><rect x="1715.9" y="2389" width="142.4" height="39.6"/><text x="1787.1" y="2405.1">ilQuestionExporter</text><text x="1787.1" y="2419.8">\exportQuestion</text></g>
<g id="n_fetchScoring" class="node"><rect x="1680.3" y="2454.1" width="213.6" height="39.6"/><text class="l" x="1691.5" y="2470.2">ilObjAssessmentFolder</text><text x="1787.1" y="2484.9">\fetchScoringAdjustableTypes</text></g>
<g id="n_handlerEnd" class="node"><rect x="1691.8" y="2519.9" width="190.6" height="25.6"/><text x="1787.1" y="2536.3">ilQTIParser\handlerEndTag</text></g>
<g id="n_copyQPool" class="node"><rect x="1689.9" y="2571.7" width="194.4" height="39.6"/><text x="1787.1" y="2587.8">ilObjTestGUI\copyQuestion</text><text x="1787.1" y="2602.5">ToPool</text></g>
<g id="n_aig" class="node"><rect x="1694.2" y="2636.8" width="185.8" height="39.6"/><text x="1787.1" y="2652.9">assQuestion\_instanciate</text><text x="1787.1" y="2667.6">QuestionGUI</text></g>
<g id="n_preview" class="node"><rect x="1693.5" y="2702" width="187.2" height="39.6"/><text x="1787.1" y="2718.1">ilAssQuestionPreviewGUI</text><text x="1787.1" y="2732.8">\initQuestion</text></g>
<g id="n_iqo" class="node"><rect x="2011.7" y="865.8" width="219" height="39.6"/><text x="2121.2" y="881.9">ilObjTest\isQuestionObligation</text><text x="2121.2" y="896.6">Possible</text></g>
<g id="n_qg" class="node"><rect x="2001.3" y="1854.5" width="239.8" height="25.6"/><text x="2121.2" y="1870.9">assQuestionGUI\_getQuestionGUI</text></g>
<g id="n_parseEnd" class="node"><rect x="2031.5" y="1906" width="179.4" height="39.6"/><text x="2121.2" y="1922.1">ilQTIParser\handlerParse</text><text x="2121.2" y="1936.8">EndTag</text></g>
<g id="n_createQGUIot" class="node"><rect x="2018.7" y="1971.8" width="205" height="25.6"/><text x="2121.2" y="1988.2">ilObjTest\createQuestionGUI</text></g>
<g id="n_iqg" class="node"><rect x="1992.2" y="2611.9" width="258" height="25.6"/><text x="2121.2" y="2628.3">assQuestion\instantiateQuestionGUI</text></g>
<g id="n_includeClass" class="node"><rect x="2298.2" y="1883.9" width="194.6" height="25.6"/><text x="2395.5" y="1900.3">assQuestion\_includeClass</text></g>
<g id="n_includeCore" class="node"><rect x="2540.8" y="1583.9" width="219.2" height="25.6"/><text x="2650.4" y="1600.3">assQuestion\includeCoreClass</text></g>
<g id="n_target" class="node hl"><rect x="2807.4" y="1551.4" width="204.8" height="39.6"/><text x="2909.8" y="1567.5">assQuestion\getObjectClass</text><text x="2909.8" y="1582.2">NameByQuestionType</text></g>
</svg>
